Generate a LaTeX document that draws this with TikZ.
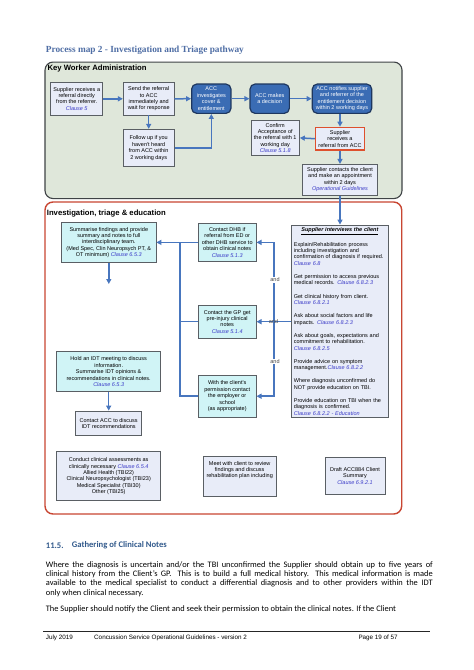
\documentclass[tikz,border=0pt]{standalone}
\usepackage{fontspec}
\usepackage{graphicx}
\usetikzlibrary{arrows.meta}
\newfontfamily\arialf{Liberation Sans}
\newfontfamily\calf{Carlito}
\newfontfamily\serf{Liberation Serif}
\definecolor{panelg}{RGB}{223,231,218}
\definecolor{boxline}{RGB}{90,95,100}
\definecolor{lav}{RGB}{232,236,248}
\definecolor{cyanf}{RGB}{208,244,246}
\definecolor{accfill}{RGB}{58,108,180}
\definecolor{accline}{RGB}{30,55,95}
\definecolor{redline}{RGB}{222,80,45}
\definecolor{lowred}{RGB}{200,70,50}
\definecolor{arrowc}{RGB}{72,118,190}
\definecolor{clausec}{RGB}{60,60,200}
\definecolor{titlec}{RGB}{79,110,165}
\definecolor{headc}{RGB}{50,90,140}
\definecolor{andc}{RGB}{70,70,70}
\newcommand\boxfont{\arialf\fontsize{5.5}{6.4}\selectfont}
\newcommand\clz[1]{{\color{clausec}\itshape #1}}
\newcommand\bodyline[1]{\makebox[387pt][s]{#1}}
\tikzset{
  box/.style={draw=boxline, line width=0.9pt, fill=lav, align=center, font=\boxfont, inner sep=1pt},
  cyanbox/.style={box, fill=cyanf},
  accbox/.style={draw=accline, line width=1.2pt, fill=accfill, rounded corners=5pt, text=white, align=center, font=\boxfont, inner sep=1pt},
  redbox/.style={box, draw=redline, line width=1.3pt},
  flow/.style={draw=arrowc, line width=1.5pt, -{Triangle[length=5pt,width=5pt]}},
  link/.style={draw=arrowc, line width=1.5pt},
  andlbl/.style={font=\boxfont, text=andc, inner sep=0.6pt},
  paneltitle/.style={font=\arialf\bfseries\fontsize{7.7}{9}\selectfont, anchor=west, inner sep=0pt},
  bodytxt/.style={font=\calf\fontsize{8.4}{9.5}\selectfont, anchor=west, inner sep=0pt, text height=6pt, text depth=2pt},
  foottxt/.style={font=\arialf\fontsize{6.3}{7}\selectfont, anchor=west, inner sep=0pt, text height=5pt, text depth=1.5pt},
}
\begin{document}
\begin{tikzpicture}[x=1pt, y=-1pt]
\useasboundingbox (0,0) rectangle (474,670);
\fill[white] (0,0) rectangle (474,670);

% title
\node[anchor=west, inner sep=0pt, text=titlec] (title) at (45.7,50.5)
  {\resizebox{198pt}{!}{\serf\bfseries Process map 2 - Investigation and Triage pathway}};

% panels
\node[draw=boxline!70!black, line width=1.1pt, fill=panelg, rounded corners=8pt,
      minimum width=357pt, minimum height=136.5pt, inner sep=0pt] (kwpanel) at (223.5,130.3) {};
\node[draw=lowred, line width=1.4pt, fill=white, rounded corners=8pt,
      minimum width=356.7pt, minimum height=312pt, inner sep=0pt] (itpanel) at (223.35,358) {};
\node[paneltitle] (kwtitle) at (47.3,68.7) {Key Worker Administration};
\node[paneltitle] (ittitle) at (46.7,214) {Investigation, triage \& education};

% top panel nodes
\node[box, minimum width=52pt, minimum height=32.3pt] (b1) at (76.7,98.8)
  {Supplier receives a\\referral directly\\from the referrer.\\\clz{Clause 5}};
\node[box, minimum width=50.7pt, minimum height=32.3pt] (b2) at (148.7,98.8)
  {Send the referral\\to ACC\\immediately and\\wait for response};
\node[accbox, minimum width=39.3pt, minimum height=29.3pt] (accinv) at (211.3,98.7)
  {ACC\\investigates\\cover \&\\entitlement};
\node[accbox, minimum width=39.3pt, minimum height=29.3pt] (accmk) at (269.7,98.7)
  {ACC makes\\a decision};
\node[accbox, minimum width=59.4pt, minimum height=29.3pt] (accnot) at (342,98.7)
  {ACC notifies supplier\\and referrer of the\\entitlement decision\\within 2 working days};
\node[box, minimum width=50.7pt, minimum height=37.4pt] (follow) at (148.7,148)
  {Follow up if you\\haven't heard\\from ACC within\\2 working days};
\node[box, minimum width=48.3pt, minimum height=34.3pt] (confirm) at (275.2,137.9)
  {Confirm\\Acceptance of\\the referral with 1\\working day\\\clz{Clause 5.1.8}};
\node[redbox, minimum width=49pt, minimum height=22.7pt] (srecv) at (340,138.7)
  {Supplier\\receives a\\referral from ACC};
\node[box, minimum width=74.6pt, minimum height=30.7pt] (scont) at (340,179.7)
  {Supplier contacts the client\\and make an appointment\\within 2 days\\\clz{Operational Guidelines}};

% lower panel nodes
\node[cyanbox, minimum width=94.3pt, minimum height=40.4pt] (summ) at (108.8,242.4)
  {Summarise findings and provide\\summary and notes to full\\interdisciplinary team.\\(Med Spec, Clin Neuropsych PT, \&\\OT minimum) \clz{Clause 6.5.3}};
\node[cyanbox, minimum width=57.7pt, minimum height=38.2pt] (dhb) at (227.2,242.4)
  {Contact DHB if\\referral from ED or\\other DHB service to\\obtain clinical notes\\\clz{Clause 5.1.3}};
\node[cyanbox, minimum width=57.7pt, minimum height=32.5pt] (gp) at (227.2,321.7)
  {Contact the GP get\\pre-injury clinical\\notes\\\clz{Clause 5.1.4}};
\node[cyanbox, minimum width=57.7pt, minimum height=42.5pt] (emp) at (227.2,396.2)
  {With the client's\\permission contact\\the employer or\\school\\(as appropriate)};
\node[box, text width=92pt, align=left, minimum height=192.7pt, inner sep=2.4pt] (si) at (339.9,321.4)
  {\makebox[\linewidth]{\bfseries\itshape\underline{Supplier interviews the client}}\\[6.6pt]
   Explain/Rehabilitation process\\including investigation and\\confirmation of diagnosis if required.\\\clz{Clause 6.8}\\[6.8pt]
   Get permission to access previous\\medical records. \clz{Clause 6.8.2.3}\\[6.8pt]
   Get clinical history from client.\\\clz{Clause 6.8.2.1}\\[6.8pt]
   Ask about social factors and life\\impacts. \clz{Clause 6.8.2.3}\\[6.8pt]
   Ask about goals, expectations and\\commitment to rehabilitation.\\\clz{Clause 6.8.2.5}\\[6.8pt]
   Provide advice on symptom\\management.\clz{Clause 6.8.2.2}\\[6.8pt]
   Where diagnosis unconfirmed do\\NOT provide education on TBI.\\[6.8pt]
   Provide education on TBI when the\\diagnosis is confirmed.\\\clz{Clause 6.8.2.2 - Education}};
\node[cyanbox, minimum width=104pt, minimum height=40pt] (hold) at (108.7,371.7)
  {Hold an IDT meeting to discuss\\information.\\Summarise IDT opinions \&\\recommendations in clinical notes.\\\clz{Clause 6.5.3}};
\node[box, minimum width=66pt, minimum height=24.7pt] (cacc) at (108.7,423.4)
  {Contact ACC to discuss\\IDT recommendations};
\node[box, minimum width=104pt, minimum height=49pt] (conduct) at (108.7,476.2)
  {Conduct clinical assessments as\\clinically necessary \clz{Clause 6.5.4}\\Allied Health (TBI22)\\Clinical Neuropsychologist (TBI23)\\Medical Specialist (TBI30)\\Other (TBI25)};
\node[box, minimum width=72.7pt, minimum height=40pt] (meet) at (239.7,476)
  {Meet with client to review\\findings and discuss\\rehabilitation plan including\\\mbox{}\\\mbox{}};
\node[box, minimum width=60pt, minimum height=36.7pt] (draft) at (355,475.7)
  {Draft ACC884 Client\\Summary\\\clz{Clause 6.9.2.1}};

% connectors top
\draw[flow] (b1.east) -- (b2.west);
\draw[flow] (b2.east) -- (accinv.west);
\draw[flow] (accinv.east) -- (accmk.west);
\draw[flow] (accmk.east) -- (accnot.west);
\draw[flow] (b2.south) -- (follow.north);
\draw[flow] (follow.east) -| (accinv.south);
\draw[flow] (srecv.north |- accnot.south) -- (srecv.north);
\draw[flow] (srecv.west) -- (confirm.east);
\draw[flow] (srecv.south) -- (scont.north);
\draw[flow] (scont.south) -- (scont.south |- si.north);

% connectors lower
\coordinate (lbtop) at (180,242.4);
\coordinate (rbmid) at (274,321.7);
\coordinate (sumend) at (108.8,284);
\draw[flow] (dhb.west) -- (summ.east);
\draw[link] (emp.west) -| (lbtop);
\draw[link] (gp.west) -- (gp.west -| lbtop);
\draw[flow] (si.west |- gp.east) -- (gp.east);
\draw[flow] (rbmid) |- (dhb.east);
\draw[flow] (rbmid) |- (emp.east);
\draw[flow] (summ.south) -- (sumend);
\draw[flow] (hold.south) -- (cacc.north);

\node[andlbl, fill=white] (and1) at (275,280) {and};
\node[andlbl] (and2) at (273.5,321.7) {and};
\node[andlbl, fill=white] (and3) at (275,361.7) {and};

% body text
\node[anchor=west, inner sep=0pt, text=headc, font=\calf\bfseries\fontsize{8.6}{10}\selectfont] (h115) at (45.7,545.7) {11.5.};
\node[anchor=west, inner sep=0pt, text=headc, font=\calf\bfseries\fontsize{8.6}{10}\selectfont] (hgath) at (71.7,545.7) {Gathering of Clinical Notes};
\node[bodytxt] (l1) at (45.7,565) {\bodyline{Where the diagnosis is uncertain and/or the TBI unconfirmed the Supplier should obtain up to five years of}};
\node[bodytxt] (l2) at (45.7,574.4) {\bodyline{clinical history from the Client’s GP.\ \ This is to build a full medical history.\ \ This medical information is made}};
\node[bodytxt] (l3) at (45.7,583.9) {\bodyline{available to the medical specialist to conduct a differential diagnosis and to other providers within the IDT}};
\node[bodytxt] (l4) at (45.7,593.3) {only when clinical necessary.};
\node[bodytxt] (l5) at (45.7,609) {The Supplier should notify the Client and seek their permission to obtain the clinical notes. If the Client};

% footer
\coordinate (fl) at (43.3,631);
\coordinate (fr) at (430,631);
\draw[line width=0.8pt, black!85] (fl) -- (fr);
\node[foottxt] (f1) at (45.7,637.5) {July 2019};
\node[foottxt] (f2) at (94,637.5) {Concussion Service Operational Guidelines - version 2};
\node[foottxt] (f3) at (358.3,637.5) {Page 19 of 57};
\end{tikzpicture}
\end{document}
